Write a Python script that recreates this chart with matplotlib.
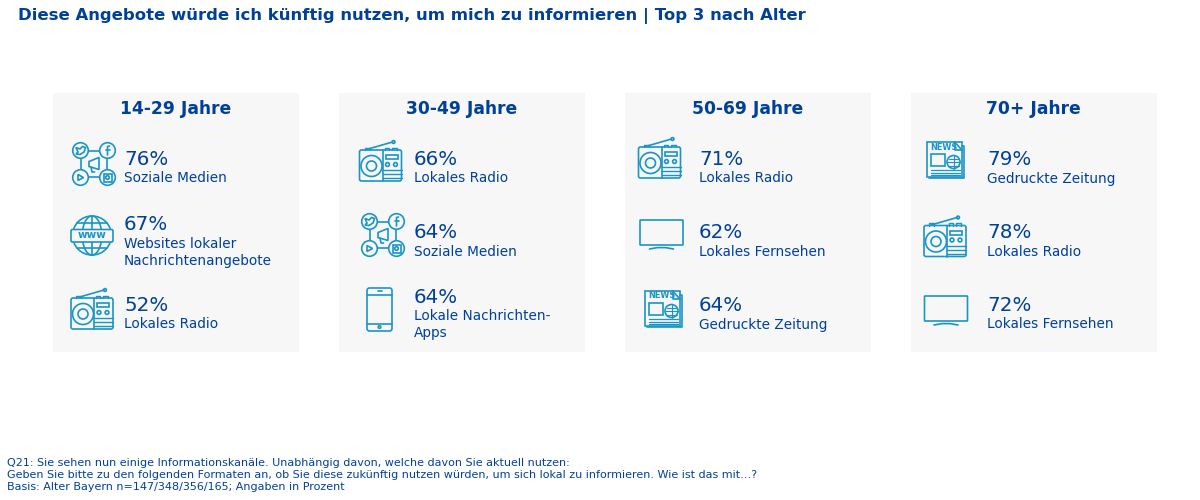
import numpy as np
import matplotlib
matplotlib.use("Agg")
import matplotlib.pyplot as plt
from matplotlib.patches import Rectangle, Circle, FancyBboxPatch, Polygon

plt.rcParams['font.family'] = ['DejaVu Sans']

TITLE = "Diese Angebote würde ich künftig nutzen, um mich zu informieren | Top 3 nach Alter"
groups = ["14-29 Jahre", "30-49 Jahre", "50-69 Jahre", "70+ Jahre"]
values_1 = [76, 67, 52]
values_2 = [66, 64, 64]
values_3 = [71, 62, 64]
values_4 = [79, 78, 72]
labels_1 = ["Soziale Medien", "Websites lokaler\nNachrichtenangebote", "Lokales Radio"]
labels_2 = ["Lokales Radio", "Soziale Medien", "Lokale Nachrichten-\nApps"]
labels_3 = ["Lokales Radio", "Lokales Fernsehen", "Gedruckte Zeitung"]
labels_4 = ["Gedruckte Zeitung", "Lokales Radio", "Lokales Fernsehen"]
icons_1 = ["social", "globe", "radio"]
icons_2 = ["radio", "social", "phone"]
icons_3 = ["radio", "tv", "news"]
icons_4 = ["news", "radio", "tv"]
FOOT = ["Q21: Sie sehen nun einige Informationskanäle. Unabhängig davon, welche davon Sie aktuell nutzen:",
        "Geben Sie bitte zu den folgenden Formaten an, ob Sie diese zukünftig nutzen würden, um sich lokal zu informieren. Wie ist das mit…?",
        "Basis: Alter Bayern n=147/348/356/165; Angaben in Prozent"]

TXT = "#00409a"
ICO = "#1b95c6"
BG = "#f7f7f7"
LW = 1.2

fig = plt.figure(figsize=(12, 5), dpi=100)
ax = fig.add_axes([0, 0, 1, 1])
ax.set_xlim(0, 1200); ax.set_ylim(500, 0); ax.axis("off")


def line(xs, ys, lw=LW):
    ax.plot(xs, ys, color=ICO, lw=lw, solid_capstyle="round", zorder=3)

def rect(x, y, w, h, lw=LW, rounded=0.0):
    if rounded:
        p = FancyBboxPatch((x + rounded, y + rounded), w - 2 * rounded, h - 2 * rounded,
                           boxstyle=f"round,pad={rounded},rounding_size={rounded}",
                           fc="none", ec=ICO, lw=lw, zorder=3)
    else:
        p = Rectangle((x, y), w, h, fc="none", ec=ICO, lw=lw, zorder=3)
    ax.add_patch(p)

def circ(x, y, r, lw=LW, fc="none"):
    ax.add_patch(Circle((x, y), r, fc=fc, ec=ICO, lw=lw, zorder=3))

def icon_radio(cx, cy):
    top = cy - 11.5
    rect(cx - 21, top, 42, 31, rounded=2)
    line([cx - 14, cx + 12], [top - 0.5, cy - 19.5])
    circ(cx + 13, cy - 19.5, 1.4)
    for a, b in ((-16, -11), (4, 8), (11, 16)):
        line([cx + a, cx + a, cx + b, cx + b], [top, top - 2.2, top - 2.2, top], lw=1.0)
    line([cx + 2, cx + 2], [top, top + 31])
    circ(cx - 9, cy + 4.5, 10.5)
    circ(cx - 9, cy + 4.5, 5)
    rect(cx + 5, cy - 6.5, 12, 4)
    circ(cx + 7, cy + 3, 1.9)
    circ(cx + 15, cy + 3, 1.9)
    for dy in (8.5, 12.5, 16.5):
        line([cx + 2, cx + 21], [cy + dy, cy + dy], lw=1.0)

def icon_social(cx, cy):
    rect(cx - 13, cy - 13, 26, 26, rounded=5)
    for sx, sy in ((-13.5, -13.5), (13.5, -13.5), (-13.5, 13.5), (13.5, 13.5)):
        circ(cx + sx, cy + sy, 7.8, fc=BG)
    # bird
    ax.add_patch(Polygon([[cx - 18, cy - 16.5], [cx - 14, cy - 15], [cx - 11.5, cy - 17.5],
                          [cx - 8.5, cy - 16.5], [cx - 10, cy - 12], [cx - 14, cy - 9.5], [cx - 18, cy - 10],
                          [cx - 16, cy - 12]],
                         fc="none", ec=ICO, lw=LW, zorder=4))
    # f
    line([cx + 15.5, cx + 13.5, cx + 13.5], [cy - 18, cy - 17.5, cy - 9])
    line([cx + 11.5, cx + 15.5], [cy - 14, cy - 14])
    # play
    ax.add_patch(Polygon([[cx - 16, cy + 10.5], [cx - 16, cy + 16.5], [cx - 10.5, cy + 13.5]],
                         fc="none", ec=ICO, lw=LW, zorder=4))
    # instagram
    rect(cx + 9.5, cy + 9.5, 8, 8)
    circ(cx + 13.5, cy + 13.5, 1.8)
    # megaphone
    ax.add_patch(Polygon([[cx - 5, cy - 2.5], [cx + 5, cy - 6.5], [cx + 5, cy + 5.5], [cx - 5, cy + 2.5]],
                         fc="none", ec=ICO, lw=LW, zorder=4))
    line([cx - 3, cx - 2, cx + 0.5], [cy + 3, cy + 8, cy + 8])

def icon_globe(cx, cy):
    r = 19.5
    circ(cx, cy, r)
    t = np.linspace(0, 2 * np.pi, 80)
    ax.plot(cx + r * 0.5 * np.cos(t), cy + r * np.sin(t), color=ICO, lw=LW, zorder=3)
    line([cx, cx], [cy - r, cy + r])
    for dy, hw in ((-12.5, 15), (12.5, 15)):
        line([cx - hw, cx + hw], [cy + dy, cy + dy])
    ax.add_patch(FancyBboxPatch((cx - 20, cy - 5), 40, 10.5,
                                boxstyle="round,pad=1,rounding_size=1.5",
                                fc=BG, ec=ICO, lw=LW, zorder=4))
    ax.text(cx, cy - 0.5, "www", color=ICO, fontsize=7.5, fontweight="bold",
            ha="center", va="center", zorder=5)

def icon_phone(cx, cy):
    rect(cx - 12.5, cy - 21.5, 25, 43, rounded=2.5)
    line([cx - 12.5, cx + 12.5], [cy - 15, cy - 15])
    line([cx - 12.5, cx + 12.5], [cy + 14, cy + 14])
    line([cx - 2, cx + 2], [cy - 18.5, cy - 18.5])
    circ(cx, cy + 17.5, 1.3)

def icon_tv(cx, cy):
    rect(cx - 21.5, cy - 13, 43, 25, rounded=0.6)
    line([cx - 12, cx - 4, cx + 4, cx + 12], [cy + 16, cy + 14.6, cy + 14.6, cy + 16])

def icon_news(cx, cy):
    rect(cx - 18.5, cy - 18, 35, 35)
    line([cx + 16.5, cx + 18.5, cx + 18.5, cx - 16.5], [cy - 14, cy - 14, cy + 18, cy + 18])
    ax.text(cx - 15.5, cy - 13, "NEWS", color=ICO, fontsize=5.9, fontweight="bold",
            ha="left", va="center", zorder=5)
    line([cx + 9, cx + 16.5], [cy - 18, cy - 10])
    line([cx + 9, cx + 9, cx + 16.5], [cy - 18, cy - 10, cy - 10])
    rect(cx - 15, cy - 6, 14, 12)
    circ(cx + 8, cy + 2, 6.5)
    line([cx + 1.5, cx + 14.5], [cy + 2, cy + 2], lw=0.8)
    line([cx + 8, cx + 8], [cy - 4.5, cy + 8.5], lw=0.8)
    line([cx + 3, cx + 13], [cy - 1.5, cy - 1.5], lw=0.8)
    line([cx + 3, cx + 13], [cy + 5.5, cy + 5.5], lw=0.8)
    for dy in (9.5, 12.5, 15):
        line([cx - 15, cx + 14], [cy + dy, cy + dy], lw=0.9)

DRAW = dict(radio=icon_radio, social=icon_social, globe=icon_globe, phone=icon_phone, tv=icon_tv, news=icon_news)

panel_x = [53, 339, 625, 911]
text_x = [124, 414, 699, 987]
pct_y = [[159, 224, 305], [159, 232, 297], [159, 232, 305], [159, 232, 305]]
icon_xy = [[(94, 164), (92, 235.5), (92, 309.5)],
           [(380.5, 161.5), (383, 235), (379.5, 309.5)],
           [(659.5, 158.5), (661.5, 233), (663.5, 309)],
           [(945.5, 160), (945, 237), (946, 309)]]
all_values = [values_1, values_2, values_3, values_4]
all_labels = [labels_1, labels_2, labels_3, labels_4]
all_icons = [icons_1, icons_2, icons_3, icons_4]

ax.text(18, 20.5, TITLE, color=TXT, fontsize=11.85, fontweight="bold", ha="left", va="baseline")

for i, g in enumerate(groups):
    ax.add_patch(Rectangle((panel_x[i], 93), 245.5, 259, fc=BG, ec="none", zorder=1))
    ax.text(panel_x[i] + 122.5, 114.5, g, color=TXT, fontsize=12.3, fontweight="bold",
            ha="center", va="baseline", zorder=2)
    for j in range(3):
        ax.text(text_x[i], pct_y[i][j] + 6, f"{all_values[i][j]}%", color=TXT, fontsize=14.3,
                ha="left", va="baseline", zorder=2)
        for n, part in enumerate(all_labels[i][j].split("\n")):
            ax.text(text_x[i], pct_y[i][j] + 23.5 + 17 * n, part, color=TXT, fontsize=9.8,
                    ha="left", va="baseline", zorder=2)
        x, y = icon_xy[i][j]
        DRAW[all_icons[i][j]](x, y)

for k, s in enumerate(FOOT):
    ax.text(7, 465.5 + 12.5 * k, s, color=TXT, fontsize=8.0, ha="left", va="baseline")

fig.savefig("out.png", dpi=100, facecolor="white")
